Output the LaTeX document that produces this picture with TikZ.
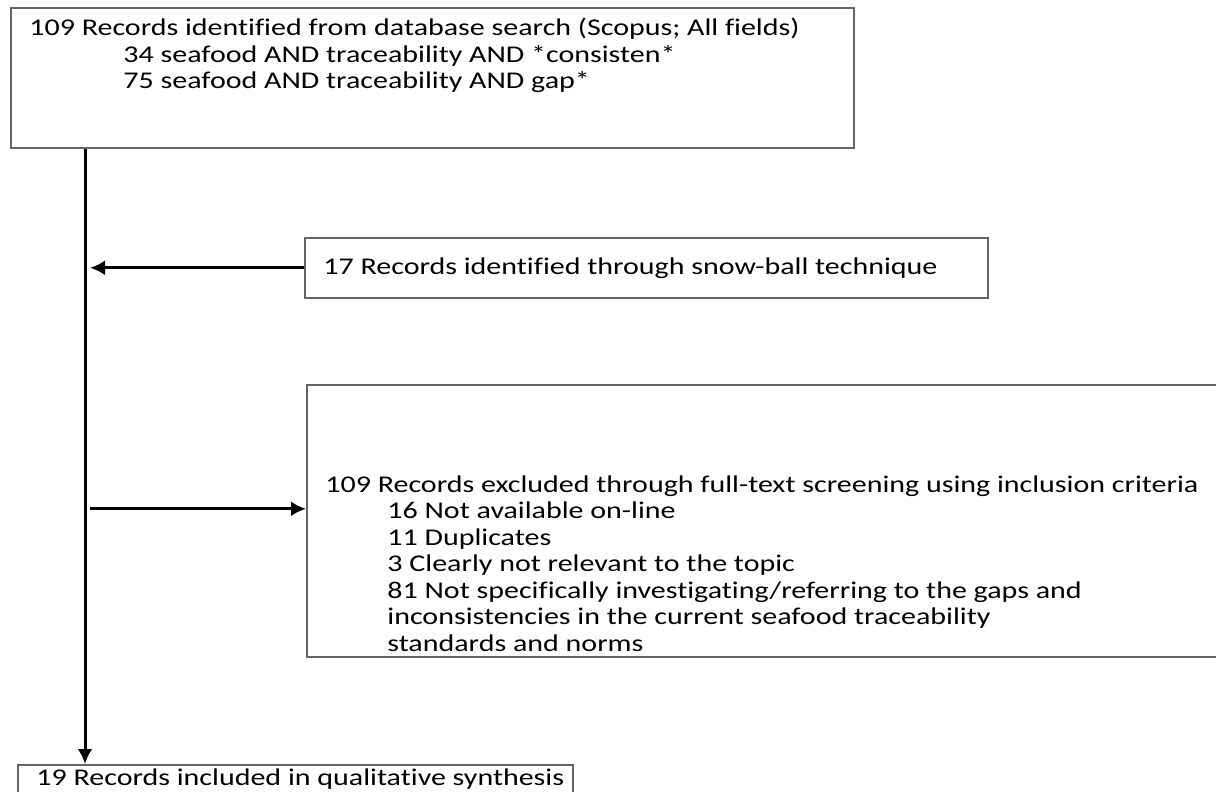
\documentclass[tikz,border=0pt]{standalone}
\usepackage{fontspec}
\setmainfont{Carlito}[Ligatures=CommonOff, FakeStretch=1.25]
\usetikzlibrary{arrows.meta}

\begin{document}
\begin{tikzpicture}[x=0.5pt,y=-0.5pt,
	box/.style={draw=black!60, line width=0.8pt, anchor=north west, inner sep=0pt},
	txt/.style={anchor=north west, inner sep=0pt, align=left,
		font=\fontsize{12}{13.25}\selectfont},
	flow/.style={line width=1.5pt, -{Latex[length=7.5pt,width=7.5pt]}}]
	\useasboundingbox (0,0) rectangle (1216,792);
	% boxes
	\node[box, minimum width=421.5pt, minimum height=70pt] (search) at (10,7) {};
	\node[box, minimum width=341.5pt, minimum height=30pt] (snowball) at (304,237) {};
	\node[box, minimum width=465pt, minimum height=136pt] (excluded) at (306,384) {};
	\node[box, minimum width=277.5pt, minimum height=30pt] (included) at (17,764) {};
	% texts
	\node[txt] (searchtxt) at ([shift={(9.5pt,-5.5pt)}]search.north west)
		{109 Records identified from database search (Scopus; All fields)\\
		\hspace{47pt}34 seafood AND traceability AND *consisten*\\
		\hspace{47pt}75 seafood AND traceability AND gap*};
	\node[txt] (snowballtxt) at ([shift={(9.5pt,-10pt)}]snowball.north west)
		{17 Records identified through snow-ball technique};
	\node[txt] (excludedtxt) at ([shift={(9.5pt,-45.5pt)}]excluded.north west)
		{109 Records excluded through full-text screening using inclusion criteria\\
		\hspace{31pt}16 Not available on-line\\
		\hspace{31pt}11 Duplicates\\
		\hspace{31pt}3 Clearly not relevant to the topic\\
		\hspace{31pt}81 Not specifically investigating/referring to the gaps and\\
		\hspace{31pt}inconsistencies in the current seafood traceability\\
		\hspace{31pt}standards and norms};
	\node[txt] (includedtxt) at ([shift={(9.5pt,-2pt)}]included.north west)
		{19 Records included in qualitative synthesis};
	% connectors
	\coordinate (trunk) at (85,0);
	\coordinate (joint) at (90,0);
	\draw[flow] (search.south -| trunk) -- (included.north -| trunk);
	\draw[flow] (snowball.west) -- (snowball.west -| joint);
	\draw[flow] ([yshift=6pt]excluded.west -| joint) -- ([yshift=6pt]excluded.west);
\end{tikzpicture}
\end{document}
